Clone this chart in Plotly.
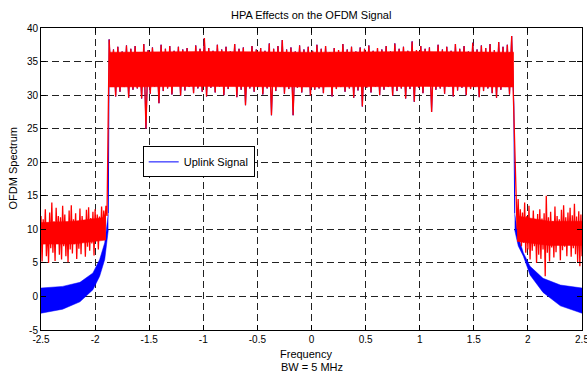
import numpy as np
import plotly.graph_objects as go

# ---------------- data ----------------
# red (after HPA) out-of-band, left side: -2.5 .. -1.89
red_left_vals = [12.0, 5.2, 11.5, 7.8, 13.0, 6.0, 10.8, 5.0, 12.5, 7.2, 14.0, 6.5, 11.2, 5.3,
                 13.2, 8.0, 12.0, 6.2, 11.8, 5.5, 13.5, 7.5, 12.2, 6.0, 11.0, 5.1, 12.8, 7.0,
                 13.6, 6.4, 11.5, 7.8, 12.4, 5.6, 10.9, 7.1, 13.1, 6.3, 12.0, 8.2, 11.4, 5.9,
                 12.9, 7.4, 13.3, 6.8, 11.7, 7.9, 12.6, 6.1, 13.0, 8.3, 12.2, 7.0, 11.9, 8.5,
                 13.4, 9.0, 12.8, 10.5, 13.5, 12.0]
red_left_range = (-2.5, -1.89)

# in-band values (shared by both signals): -1.87 .. 1.87
inband_vals = [38.3, 31.5, 36.8, 29.8, 37.2, 30.5, 36.5, 31.2, 37.4, 29.6, 36.9, 30.8,
               37.3, 31.0, 36.2, 29.5, 37.6, 25.0, 36.7, 30.2, 37.1, 31.3, 36.4, 28.8,
               37.5, 30.6, 36.9, 31.0, 37.3, 30.1, 36.6, 31.4, 37.2, 29.9, 36.8, 30.7,
               37.0, 31.2, 36.3, 30.3, 37.4, 31.0, 36.9, 30.5, 38.5, 29.8, 37.0, 31.1,
               36.6, 30.4, 37.5, 31.3, 36.8, 30.0, 37.2, 30.9, 36.5, 31.5, 37.6, 29.7,
               36.9, 30.8, 37.1, 28.5, 36.4, 31.0, 37.3, 30.5, 36.8, 31.2, 37.0, 30.1,
               36.6, 31.0, 37.7, 27.0, 36.9, 30.6, 37.3, 31.3, 38.2, 30.2, 36.8, 30.9,
               37.1, 27.0, 36.5, 31.1, 37.4, 30.4, 36.8, 31.2, 37.2, 29.9, 36.6, 30.8,
               37.5, 31.0, 36.9, 30.3, 37.3, 31.4, 36.4, 29.8, 37.0, 30.9, 36.7, 31.2,
               37.6, 30.5, 36.8, 31.0, 37.2, 29.6, 36.5, 30.7, 37.1, 28.3, 36.9, 31.1,
               37.4, 30.4, 36.6, 31.3, 37.0, 30.0, 36.8, 30.8, 37.3, 31.2, 36.5, 29.9,
               37.7, 30.6, 36.9, 31.0, 37.2, 29.5, 36.6, 30.9, 38.0, 29.0, 36.7, 31.1,
               37.3, 30.3, 36.9, 31.4, 37.1, 27.5, 36.4, 30.8, 37.5, 31.0, 36.8, 30.2,
               37.2, 31.3, 36.6, 29.8, 37.6, 30.7, 36.9, 31.1, 37.3, 30.0, 36.5, 30.9,
               37.8, 31.2, 36.8, 29.7, 37.4, 30.6, 37.0, 31.0, 37.6, 30.3, 36.7, 29.6,
               37.9, 30.8, 37.2, 31.2, 37.5, 30.1, 38.8, 28.5]
inband_range = (-1.87, 1.87)

# dense in-band core of the red trace
core_freq = [-1.87, -1.0, 0.0, 1.0, 1.87]
core_lo = [31.2, 31.3, 31.2, 31.3, 31.2]
core_hi = [36.4, 36.5, 36.4, 36.5, 36.4]

# dense out-of-band cores of the red trace
oob_left_freq = [-2.5, -2.2, -1.9]
oob_left_lo = [7.8, 7.8, 8.4]
oob_left_hi = [11.0, 11.2, 11.8]
oob_right_freq = [1.9, 2.2, 2.5]
oob_right_lo = [8.2, 7.6, 7.6]
oob_right_hi = [12.0, 11.2, 11.2]

# red out-of-band, right side: 1.89 .. 2.5
red_right_vals = [15.5, 10.0, 14.5, 9.0, 13.0, 7.5, 12.5, 8.0, 14.0, 6.5, 12.0, 7.0, 13.5, 5.5,
                  11.5, 6.8, 12.8, 7.5, 11.0, 5.0, 12.3, 6.2, 13.0, 5.6, 11.6, 7.0, 12.4, 3.0,
                  15.0, 6.5, 11.8, 5.2, 12.6, 7.3, 11.2, 5.8, 13.4, 6.6, 12.0, 7.7, 11.5, 5.4,
                  12.9, 6.9, 13.6, 7.4, 11.8, 6.0, 12.5, 7.8, 13.2, 5.9, 12.1, 7.2, 13.8, 6.3,
                  11.9, 5.1, 12.7, 4.5, 12.2, 6.0]
red_right_range = (1.89, 2.5)

# blue (uplink) out-of-band envelope
blue_left_freq = [-2.5, -2.30, -2.14, -2.02, -1.958, -1.911, -1.878]
blue_left_hi = [1.25, 1.5, 2.1, 3.5, 5.5, 8.0, 12.4]
blue_left_lo = [-2.5, -1.9, -0.8, 1.0, 3.0, 5.5, 9.9]
blue_right_freq = [1.878, 1.911, 1.958, 2.02, 2.14, 2.30, 2.5]
blue_right_hi = [12.4, 8.9, 6.5, 4.5, 2.7, 1.7, 1.25]
blue_right_lo = [9.9, 7.5, 6.0, 3.2, 0.6, -1.4, -2.5]

x_ticks = [-2.5, -2, -1.5, -1, -0.5, 0, 0.5, 1, 1.5, 2, 2.5]
x_ticklabels = ["-2.5", "-2", "-1.5", "-1", "-0.5", "0", "0.5", "1", "1.5", "2", "2.5"]
y_ticks = [-5, 0, 5, 10, 15, 20, 25, 30, 35, 40]
y_ticklabels = ["-5", "0", "5", "10", "15", "20", "25", "30", "35", "40"]

# ---------------- figure ----------------
BLUE = "#0000FF"
RED = "#FF0000"
FONT = "Liberation Sans"

f_left = np.linspace(red_left_range[0], red_left_range[1], len(red_left_vals))
f_in = np.linspace(inband_range[0], inband_range[1], len(inband_vals))
f_right = np.linspace(red_right_range[0], red_right_range[1], len(red_right_vals))

fig = go.Figure()


def band(fr, lo, hi, color):
    fig.add_trace(go.Scatter(x=fr, y=lo, mode="lines", line=dict(color=color, width=0.5),
                             showlegend=False, hoverinfo="skip"))
    fig.add_trace(go.Scatter(x=fr, y=hi, mode="lines", line=dict(color=color, width=0.5),
                             fill="tonexty", fillcolor=color, showlegend=False, hoverinfo="skip"))


# blue out-of-band bands
band(blue_left_freq, blue_left_lo, blue_left_hi, BLUE)
band(blue_right_freq, blue_right_lo, blue_right_hi, BLUE)

# blue main line (legend)
blue_x = [blue_left_freq[-1]] + list(f_in) + [blue_right_freq[0]]
blue_y = [blue_left_hi[-1]] + inband_vals + [blue_right_hi[0]]
fig.add_trace(go.Scatter(x=blue_x, y=blue_y, mode="lines", line=dict(color=BLUE, width=1),
                         name="Uplink Signal", showlegend=True))

# red dense cores
band(core_freq, core_lo, core_hi, RED)
band(oob_left_freq, oob_left_lo, oob_left_hi, RED)
band(oob_right_freq, oob_right_lo, oob_right_hi, RED)

# red full trace
red_x = list(f_left) + list(f_in) + list(f_right)
red_y = red_left_vals + inband_vals + red_right_vals
fig.add_trace(go.Scatter(x=red_x, y=red_y, mode="lines", line=dict(color=RED, width=1.3),
                         showlegend=False))

axis_common = dict(
    showline=True, linecolor="black", linewidth=1, mirror="ticks",
    ticks="inside", ticklen=5, tickcolor="black",
    showgrid=True, gridcolor="#222222", gridwidth=1, griddash="7px,4px",
    zeroline=False, tickfont=dict(family=FONT, size=10, color="black"),
    ticklabeloverflow="allow", automargin=False,
)

fig.update_xaxes(range=[-2.5, 2.5], tickmode="array", tickvals=x_ticks,
                 ticktext=x_ticklabels, **axis_common)
fig.update_yaxes(range=[-5, 40], tickmode="array", tickvals=y_ticks,
                 ticktext=y_ticklabels, **axis_common)

fig.update_layout(
    width=587, height=376,
    margin=dict(l=41, r=5, t=28, b=46, autoexpand=False),
    paper_bgcolor="white", plot_bgcolor="white",
    font=dict(family=FONT, size=10, color="black"),
    legend=dict(x=0.188, y=0.608, xanchor="left", yanchor="top",
                bgcolor="white", bordercolor="black", borderwidth=1,
                font=dict(family=FONT, size=11, color="black"),
                itemwidth=30, tracegroupgap=0),
    annotations=[
        dict(text="HPA Effects on the OFDM Signal", x=0.499, y=1.043, xref="paper", yref="paper",
             showarrow=False, xanchor="center", yanchor="middle",
             font=dict(family=FONT, size=11, color="black")),
        dict(text="Frequency", x=0.49, y=-0.08, xref="paper", yref="paper",
             showarrow=False, xanchor="center", yanchor="middle",
             font=dict(family=FONT, size=11, color="black")),
        dict(text="BW = 5 MHz", x=0.5, y=-0.121, xref="paper", yref="paper",
             showarrow=False, xanchor="center", yanchor="middle",
             font=dict(family=FONT, size=11, color="black")),
        dict(text="OFDM Spectrum", x=-0.0518, y=0.538, xref="paper", yref="paper",
             showarrow=False, xanchor="center", yanchor="middle", textangle=-90,
             font=dict(family=FONT, size=11, color="black")),
    ],
)

fig.write_html("out.html")
